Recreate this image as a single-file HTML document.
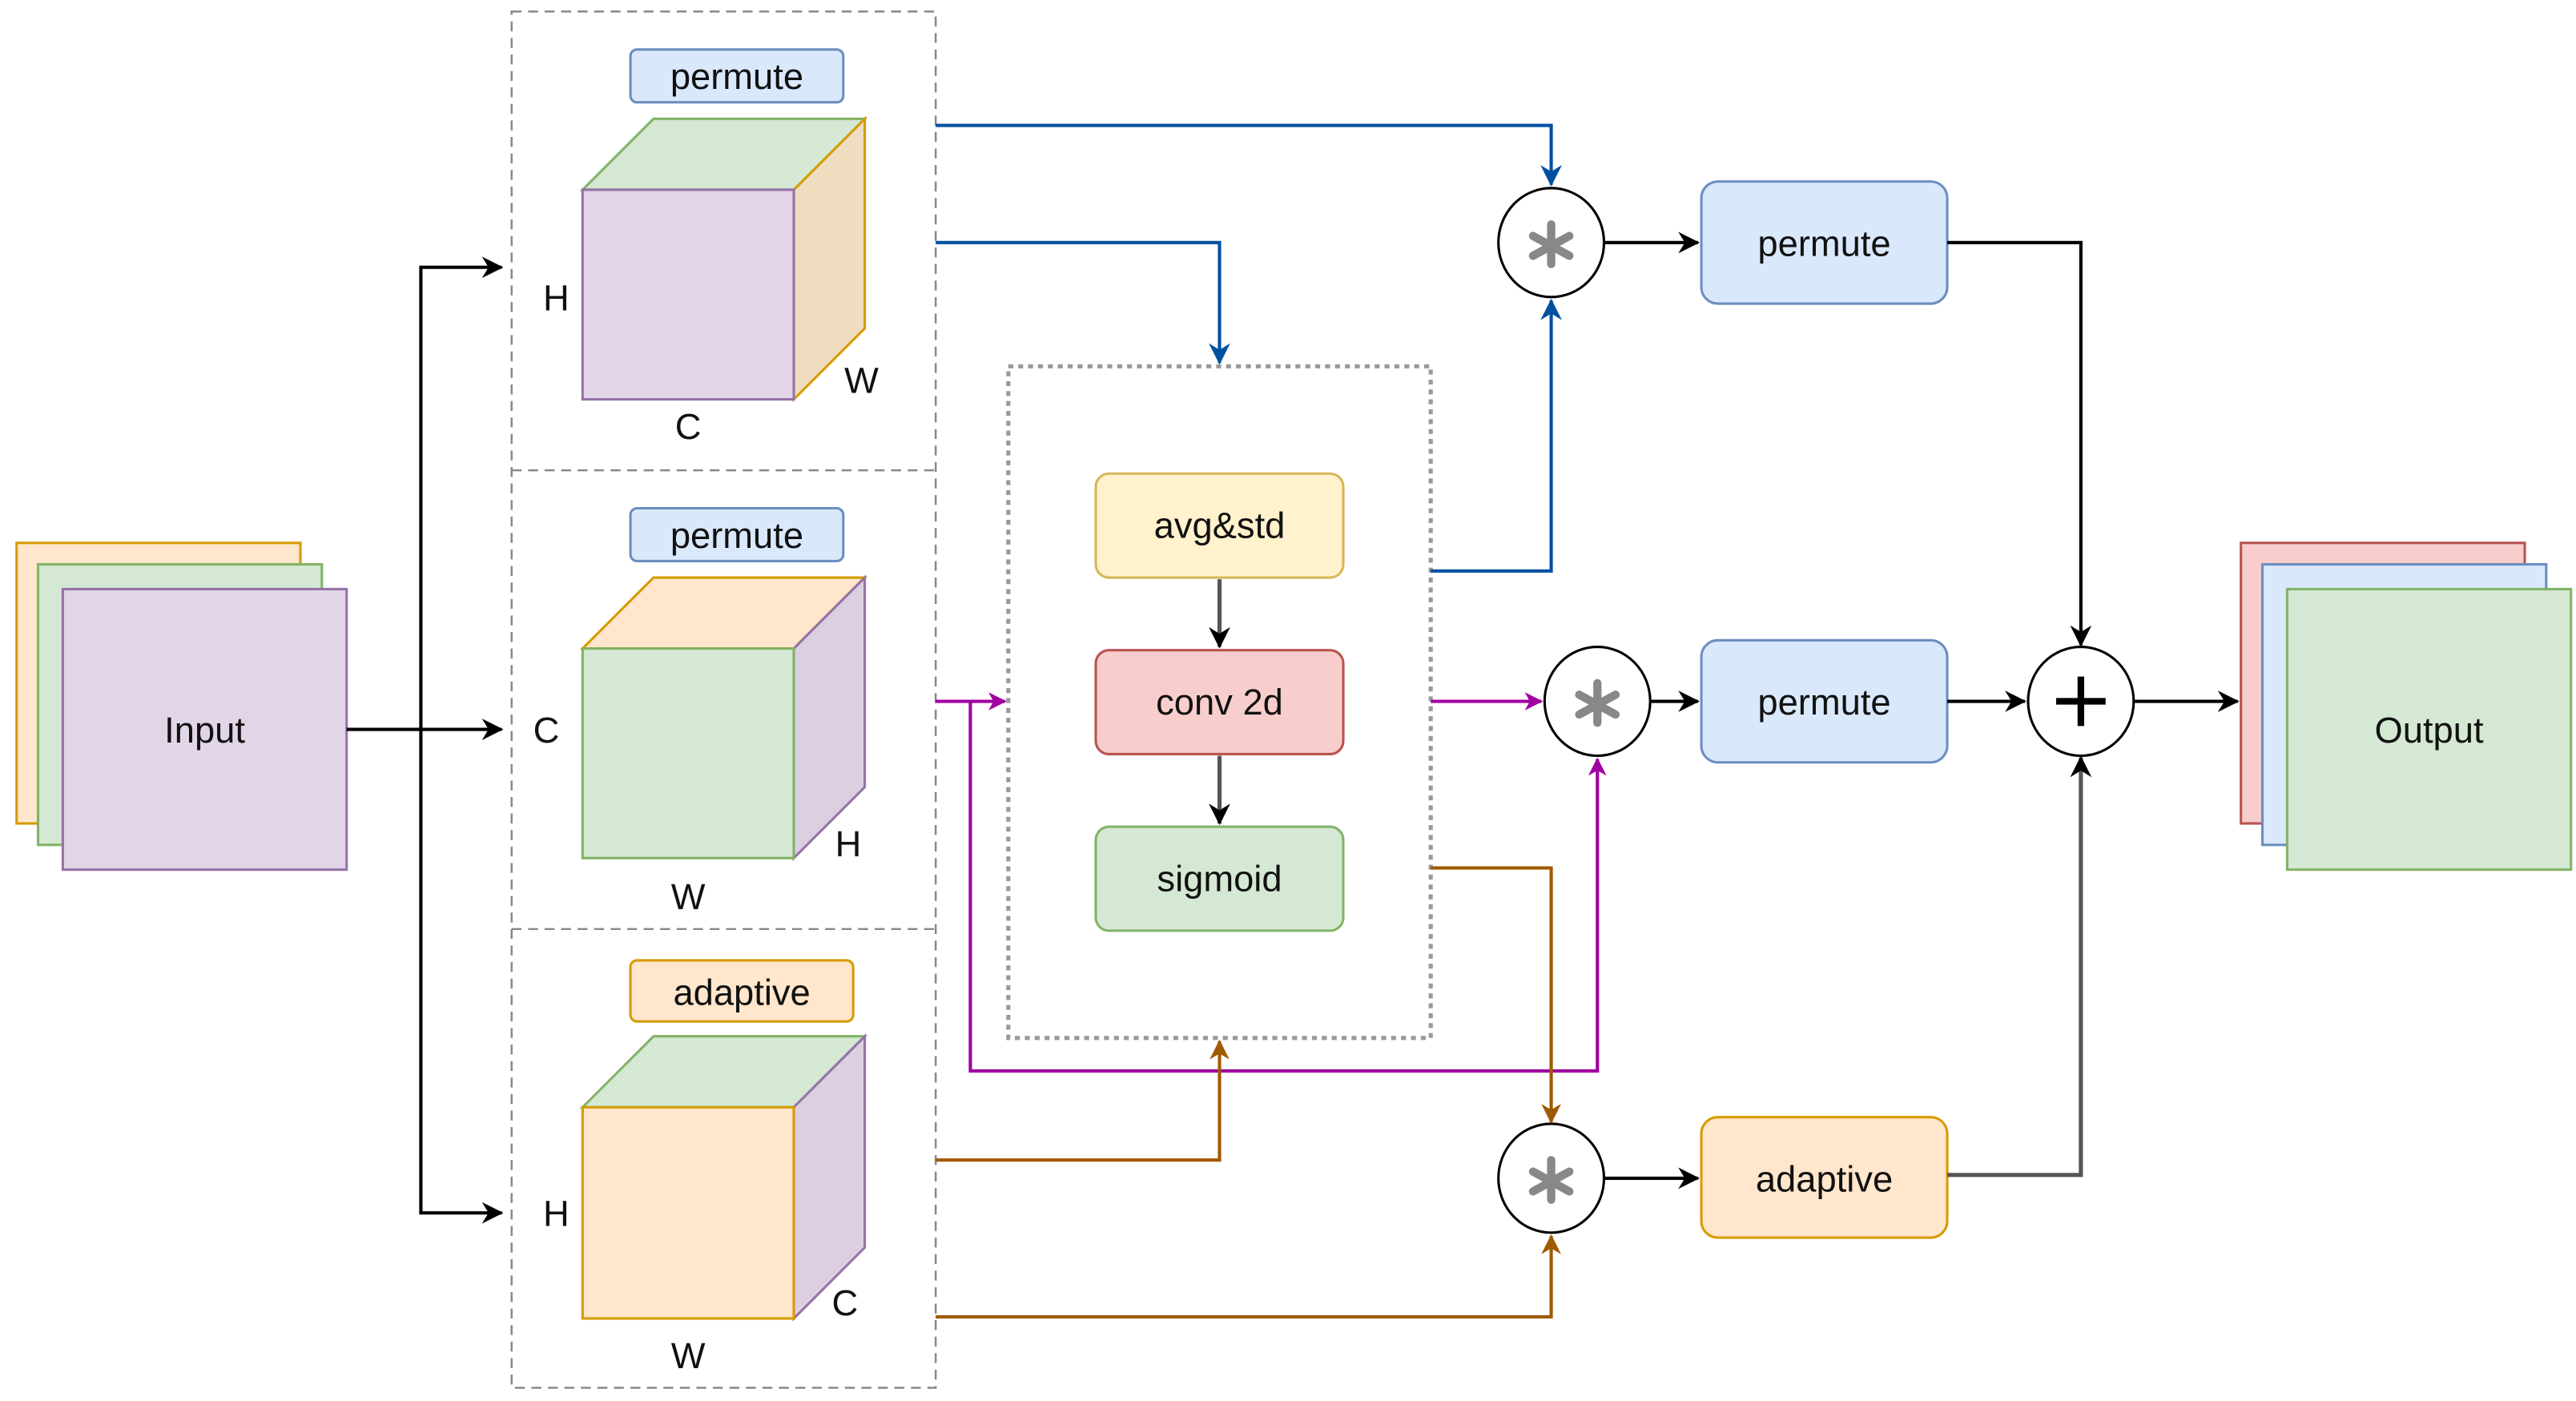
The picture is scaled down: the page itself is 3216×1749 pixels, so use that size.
<!DOCTYPE html>
<html><head><meta charset="utf-8"><style>
html,body{margin:0;padding:0;background:#fff;}
svg{display:block;}
text{font-family:"Liberation Sans",Arial,sans-serif;fill:#111;}
</style></head><body>
<svg width="3216" height="1749" viewBox="0 0 1561 849" xmlns="http://www.w3.org/2000/svg">
<defs>
<marker id="ak" markerWidth="13" markerHeight="13" refX="12" refY="6.5" orient="auto" markerUnits="userSpaceOnUse"><path d="M0,0 L13,6.5 L0,13 L4,6.5 z" fill="#000"/></marker>
<marker id="ab" markerWidth="13" markerHeight="13" refX="12" refY="6.5" orient="auto" markerUnits="userSpaceOnUse"><path d="M0,0 L13,6.5 L0,13 L4,6.5 z" fill="#0050a0"/></marker>
<marker id="ap" markerWidth="11" markerHeight="11" refX="10" refY="5.5" orient="auto" markerUnits="userSpaceOnUse"><path d="M0,0 L11,5.5 L0,11 L3,5.5 z" fill="#a000a0"/></marker>
<marker id="ao" markerWidth="12" markerHeight="12" refX="11" refY="6" orient="auto" markerUnits="userSpaceOnUse"><path d="M0,0 L12,6 L0,12 L3.5,6 z" fill="#a05a00"/></marker>
</defs>

<g fill="none" stroke="#888" stroke-width="1.2" stroke-dasharray="6,4">
<rect x="310" y="7" width="257" height="834"/>
<path d="M310,285 L567,285 M310,563 L567,563"/>
</g>

<rect x="382" y="30" width="129" height="32" rx="4" fill="#dae8fc" stroke="#6c8ebf" stroke-width="1.5"/>
<text x="446.5" y="54" font-size="22" text-anchor="middle">permute</text>
<rect x="382" y="308" width="129" height="32" rx="4" fill="#dae8fc" stroke="#6c8ebf" stroke-width="1.5"/>
<text x="446.5" y="332" font-size="22" text-anchor="middle">permute</text>
<rect x="382" y="582" width="135" height="37" rx="4" fill="#ffe6cc" stroke="#d79b00" stroke-width="1.5"/>
<text x="449.5" y="609" font-size="22" text-anchor="middle">adaptive</text>

<polygon points="353,115 396,72 524,72 481,115" fill="#d5e8d4" stroke="#82b366" stroke-width="1.5"/>
<polygon points="481,115 524,72 524,199 481,242" fill="#f0dcc0" stroke="#d79b00" stroke-width="1.5"/>
<rect x="353" y="115" width="128" height="127" fill="#e1d5e7" stroke="#9673a6" stroke-width="1.5"/>
<text x="337" y="188" font-size="22" text-anchor="middle">H</text>
<text x="522" y="238" font-size="22" text-anchor="middle">W</text>
<text x="417" y="266" font-size="22" text-anchor="middle">C</text>
<polygon points="353,393 396,350 524,350 481,393" fill="#ffe6cc" stroke="#d79b00" stroke-width="1.5"/>
<polygon points="481,393 524,350 524,477 481,520" fill="#dccfe2" stroke="#9673a6" stroke-width="1.5"/>
<rect x="353" y="393" width="128" height="127" fill="#d5e8d4" stroke="#82b366" stroke-width="1.5"/>
<text x="331" y="450" font-size="22" text-anchor="middle">C</text>
<text x="514" y="519" font-size="22" text-anchor="middle">H</text>
<text x="417" y="551" font-size="22" text-anchor="middle">W</text>
<polygon points="353,671 396,628 524,628 481,671" fill="#d5e8d4" stroke="#82b366" stroke-width="1.5"/>
<polygon points="481,671 524,628 524,756 481,799" fill="#dccfe2" stroke="#9673a6" stroke-width="1.5"/>
<rect x="353" y="671" width="128" height="128" fill="#ffe6cc" stroke="#d79b00" stroke-width="1.5"/>
<text x="337" y="743" font-size="22" text-anchor="middle">H</text>
<text x="512" y="797" font-size="22" text-anchor="middle">C</text>
<text x="417" y="829" font-size="22" text-anchor="middle">W</text>

<rect x="10" y="329" width="172" height="170" fill="#ffe6cc" stroke="#d79b00" stroke-width="1.5"/>
<rect x="23" y="342" width="172" height="170" fill="#d5e8d4" stroke="#82b366" stroke-width="1.5"/>
<rect x="38" y="357" width="172" height="170" fill="#e1d5e7" stroke="#9673a6" stroke-width="1.5"/>
<text x="124" y="450" font-size="22" text-anchor="middle">Input</text>
<rect x="1358" y="329" width="172" height="170" fill="#f8cecc" stroke="#b85450" stroke-width="1.5"/>
<rect x="1371" y="342" width="172" height="170" fill="#dae8fc" stroke="#6c8ebf" stroke-width="1.5"/>
<rect x="1386" y="357" width="172" height="170" fill="#d5e8d4" stroke="#82b366" stroke-width="1.5"/>
<text x="1472" y="450" font-size="22" text-anchor="middle">Output</text>

<g fill="none" stroke="#000" stroke-width="2">
<path d="M210,442 L304,442" marker-end="url(#ak)"/>
<path d="M255,442 L255,735 L304,735" marker-end="url(#ak)"/>
<path d="M255,442 L255,162 L304,162" marker-end="url(#ak)"/>
</g>

<rect x="611" y="222" width="256" height="407" fill="none" stroke="#999" stroke-width="2.5" stroke-dasharray="3,3"/>
<rect x="664" y="287" width="150" height="63" rx="8" fill="#fff2cc" stroke="#d6b656" stroke-width="1.5"/>
<text x="739" y="326" font-size="22" text-anchor="middle">avg&amp;std</text>
<rect x="664" y="394" width="150" height="63" rx="8" fill="#f8cecc" stroke="#b85450" stroke-width="1.5"/>
<text x="739" y="433" font-size="22" text-anchor="middle">conv 2d</text>
<rect x="664" y="501" width="150" height="63" rx="8" fill="#d5e8d4" stroke="#82b366" stroke-width="1.5"/>
<text x="739" y="540" font-size="22" text-anchor="middle">sigmoid</text>
<g fill="none" stroke="#555" stroke-width="2.5">
<path d="M739,351 L739,392" marker-end="url(#ak)"/>
<path d="M739,458 L739,499" marker-end="url(#ak)"/>
</g>

<g fill="none" stroke="#0050a0" stroke-width="2">
<path d="M567,76 L940,76 L940,112" marker-end="url(#ab)"/>
<path d="M567,147 L739,147 L739,220" marker-end="url(#ab)"/>
<path d="M867,346 L940,346 L940,182" marker-end="url(#ab)"/>
</g>
<g fill="none" stroke="#a000a0" stroke-width="2">
<path d="M567,425 L609,425" marker-end="url(#ap)"/>
<path d="M588,425 L588,649 L968,649 L968,460" marker-end="url(#ap)"/>
<path d="M867,425 L934,425" marker-end="url(#ap)"/>
</g>
<g fill="none" stroke="#a05a00" stroke-width="2">
<path d="M567,703 L739,703 L739,631" marker-end="url(#ao)"/>
<path d="M867,526 L940,526 L940,680" marker-end="url(#ao)"/>
<path d="M567,798 L940,798 L940,749" marker-end="url(#ao)"/>
</g>

<g fill="#fff" stroke="#000" stroke-width="1.5">
<ellipse cx="940" cy="147" rx="32" ry="33"/>
<ellipse cx="968" cy="425" rx="32" ry="33"/>
<ellipse cx="940" cy="714" rx="32" ry="33"/>
<ellipse cx="1261" cy="425" rx="32" ry="33"/>
</g>
<g stroke="#888" stroke-width="5" stroke-linecap="round">
<path d="M940,136 L940,160 M929,143 L951,155 M951,143 L929,155"/>
<path d="M968,414 L968,438 M957,421 L979,433 M979,421 L957,433"/>
<path d="M940,703 L940,727 M929,710 L951,722 M951,710 L929,722"/>
</g>
<path d="M1261,410 L1261,440 M1246,425 L1276,425" stroke="#000" stroke-width="4"/>

<rect x="1031" y="110" width="149" height="74" rx="10" fill="#dae8fc" stroke="#6c8ebf" stroke-width="1.5"/>
<text x="1105.5" y="155" font-size="22" text-anchor="middle">permute</text>
<rect x="1031" y="388" width="149" height="74" rx="10" fill="#dae8fc" stroke="#6c8ebf" stroke-width="1.5"/>
<text x="1105.5" y="433" font-size="22" text-anchor="middle">permute</text>
<rect x="1031" y="677" width="149" height="73" rx="10" fill="#ffe6cc" stroke="#d79b00" stroke-width="1.5"/>
<text x="1105.5" y="722" font-size="22" text-anchor="middle">adaptive</text>

<g fill="none" stroke="#000" stroke-width="2">
<path d="M972,147 L1029,147" marker-end="url(#ak)"/>
<path d="M1180,147 L1261,147 L1261,391" marker-end="url(#ak)"/>
<path d="M1000,425 L1029,425" marker-end="url(#ak)"/>
<path d="M1180,425 L1227,425" marker-end="url(#ak)"/>
<path d="M1293,425 L1356,425" marker-end="url(#ak)"/>
<path d="M972,714 L1029,714" marker-end="url(#ak)"/>
<path d="M1180,712 L1261,712 L1261,459" stroke="#555" stroke-width="2.5" marker-end="url(#ak)"/>
</g>
</svg>
</body></html>
